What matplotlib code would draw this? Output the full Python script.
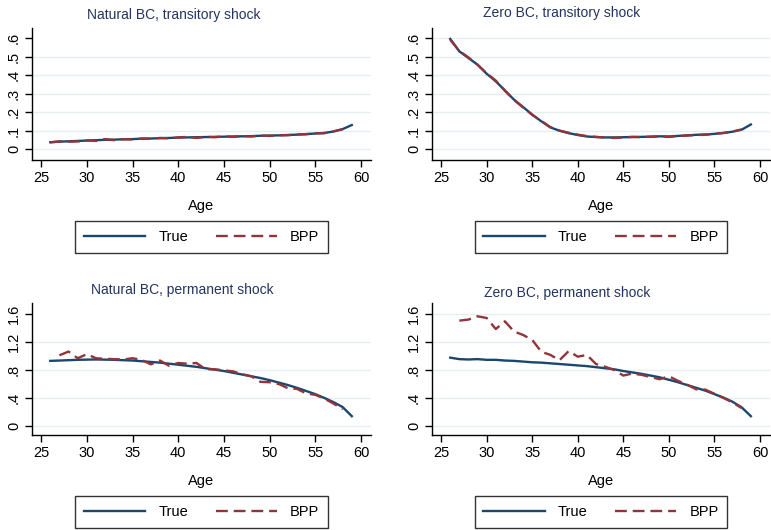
import numpy as np
import matplotlib
matplotlib.use("Agg")
import matplotlib.pyplot as plt

plt.rcParams['font.family'] = ['Liberation Sans', 'DejaVu Sans']

# ages
age_true = np.arange(26, 60)
age_bpp_top = np.arange(26, 59)
age_bpp_bot = np.arange(27, 59)

# Natural BC, transitory shock
nat_tr_true = [0.037, 0.040, 0.042, 0.044, 0.046, 0.048, 0.050, 0.051, 0.053, 0.054,
               0.056, 0.057, 0.059, 0.060, 0.062, 0.063, 0.064, 0.065, 0.066, 0.067,
               0.068, 0.069, 0.070, 0.072, 0.073, 0.074, 0.076, 0.078, 0.081, 0.084,
               0.087, 0.095, 0.108, 0.130]
nat_tr_bpp = [0.036, 0.042, 0.040, 0.041, 0.047, 0.044, 0.054, 0.048, 0.053, 0.052,
              0.057, 0.056, 0.060, 0.058, 0.063, 0.066, 0.060, 0.066, 0.064, 0.068,
              0.066, 0.070, 0.068, 0.073, 0.071, 0.075, 0.075, 0.079, 0.080, 0.085,
              0.086, 0.096, 0.107]

# Zero BC, transitory shock
zero_tr_true = [0.595, 0.528, 0.492, 0.456, 0.407, 0.366, 0.317, 0.267, 0.227, 0.186,
                0.150, 0.117, 0.099, 0.086, 0.076, 0.068, 0.065, 0.063, 0.063, 0.064,
                0.065, 0.066, 0.067, 0.069, 0.068, 0.071, 0.074, 0.077, 0.079, 0.082,
                0.087, 0.094, 0.105, 0.133]
zero_tr_bpp = [0.590, 0.530, 0.495, 0.455, 0.410, 0.370, 0.315, 0.265, 0.225, 0.185,
               0.152, 0.118, 0.100, 0.088, 0.078, 0.070, 0.066, 0.062, 0.060, 0.063,
               0.066, 0.064, 0.067, 0.068, 0.066, 0.070, 0.073, 0.076, 0.077, 0.083,
               0.087, 0.095, 0.106]

# Natural BC, permanent shock
nat_pm_true = [0.93, 0.935, 0.94, 0.945, 0.948, 0.95, 0.948, 0.945, 0.94, 0.935,
               0.925, 0.915, 0.905, 0.89, 0.875, 0.86, 0.845, 0.825, 0.805, 0.785,
               0.76, 0.735, 0.71, 0.685, 0.655, 0.62, 0.585, 0.545, 0.50, 0.455,
               0.40, 0.34, 0.27, 0.14]
nat_pm_bpp = [1.01, 1.063, 0.968, 1.025, 0.968, 0.96, 0.955, 0.95, 0.968, 0.945,
              0.88, 0.935, 0.86, 0.90, 0.89, 0.90, 0.81, 0.81, 0.795, 0.78,
              0.74, 0.71, 0.63, 0.625, 0.60, 0.54, 0.53, 0.465, 0.445, 0.39,
              0.32, 0.24]

# Zero BC, permanent shock
zero_pm_true = [0.976, 0.955, 0.95, 0.955, 0.945, 0.945, 0.935, 0.93, 0.92, 0.91,
                0.905, 0.895, 0.885, 0.875, 0.865, 0.855, 0.84, 0.825, 0.81, 0.785,
                0.765, 0.745, 0.72, 0.695, 0.66, 0.625, 0.585, 0.545, 0.505, 0.455,
                0.405, 0.345, 0.265, 0.14]
zero_pm_bpp = [1.505, 1.52, 1.567, 1.543, 1.385, 1.495, 1.35, 1.30, 1.23, 1.06,
               1.015, 0.94, 1.07, 0.99, 1.015, 0.885, 0.846, 0.80, 0.72, 0.75,
               0.73, 0.70, 0.668, 0.71, 0.645, 0.59, 0.524, 0.52, 0.46, 0.40,
               0.335, 0.255]

xticks = [25, 30, 35, 40, 45, 50, 55, 60]
top_yticks = [0, 0.1, 0.2, 0.3, 0.4, 0.5, 0.6]
top_ylabels = ['0', '.1', '.2', '.3', '.4', '.5', '.6']
bot_yticks = [0, 0.4, 0.8, 1.2, 1.6]
bot_ylabels = ['0', '.4', '.8', '1.2', '1.6']

C_TRUE = '#1a476f'
C_BPP = '#90353b'
C_GRID = '#e6eef0'
C_TITLE = '#24345f'

W, H = 771, 530
fig = plt.figure(figsize=(W / 100, H / 100), dpi=100)
fig.patch.set_facecolor('white')


def px_axes(left, right, top, bottom):
    return fig.add_axes([left / W, 1 - bottom / H, (right - left) / W, (bottom - top) / H])


panels = [
    # (box, title, title pos, x_bpp, true, bpp, yticks, ylabels, ylim, top grid)
    ((32, 371, 28, 160), 'Natural BC, transitory shock', (174, 15), age_bpp_top,
     nat_tr_true, nat_tr_bpp, top_yticks, top_ylabels, (-0.059, 0.654), False),
    ((432, 770, 28, 160), 'Zero BC, transitory shock', (562, 13), age_bpp_top,
     zero_tr_true, zero_tr_bpp, top_yticks, top_ylabels, (-0.059, 0.654), True),
    ((32, 371, 303, 435), 'Natural BC, permanent shock', (182, 290), age_bpp_bot,
     nat_pm_true, nat_pm_bpp, bot_yticks, bot_ylabels, (-0.129, 1.757), False),
    ((432, 770, 303, 435), 'Zero BC, permanent shock', (567, 293), age_bpp_bot,
     zero_pm_true, zero_pm_bpp, bot_yticks, bot_ylabels, (-0.129, 1.757), True),
]

for box, title, tpos, x_bpp, y_true, y_bpp, yt, ytl, ylim, topgrid in panels:
    ax = px_axes(*box)
    grid_vals = yt if topgrid else yt[:-1]
    for g in grid_vals:
        ax.axhline(g, color=C_GRID, lw=1.0, zorder=0)
    ax.plot(age_true, y_true, color=C_TRUE, lw=1.7, label='True', zorder=2)
    ax.plot(x_bpp, y_bpp, color=C_BPP, lw=1.7, ls=(0, (5, 2.5)), label='BPP', zorder=3)
    ax.set_xlim(24.0, 61.1)
    ax.set_ylim(*ylim)
    ax.set_xticks(xticks)
    ax.set_yticks(yt)
    ax.set_yticklabels(ytl, rotation=90, va='center')
    ax.spines['top'].set_visible(False)
    ax.spines['right'].set_visible(False)
    for s in ('left', 'bottom'):
        ax.spines[s].set_linewidth(1.0)
        ax.spines[s].set_color('black')
    ax.tick_params(axis='both', direction='out', length=5, width=1.0,
                   labelsize=10.5, pad=3)
    ax.set_xlabel('Age', fontsize=10.5, labelpad=10)
    fig.text(tpos[0] / W, 1 - tpos[1] / H, title, ha='center', va='center',
             fontsize=10, color=C_TITLE)
    leg = ax.legend(loc='center', bbox_to_anchor=(0.5, -0.585), ncol=2,
                    frameon=True, fancybox=False, edgecolor='black',
                    fontsize=10.5, handlelength=4.2, handletextpad=0.9,
                    columnspacing=1.9, borderpad=0.6, borderaxespad=0)
    leg.get_frame().set_linewidth(1.0)

plt.savefig('out.png', dpi=100, facecolor='white')
